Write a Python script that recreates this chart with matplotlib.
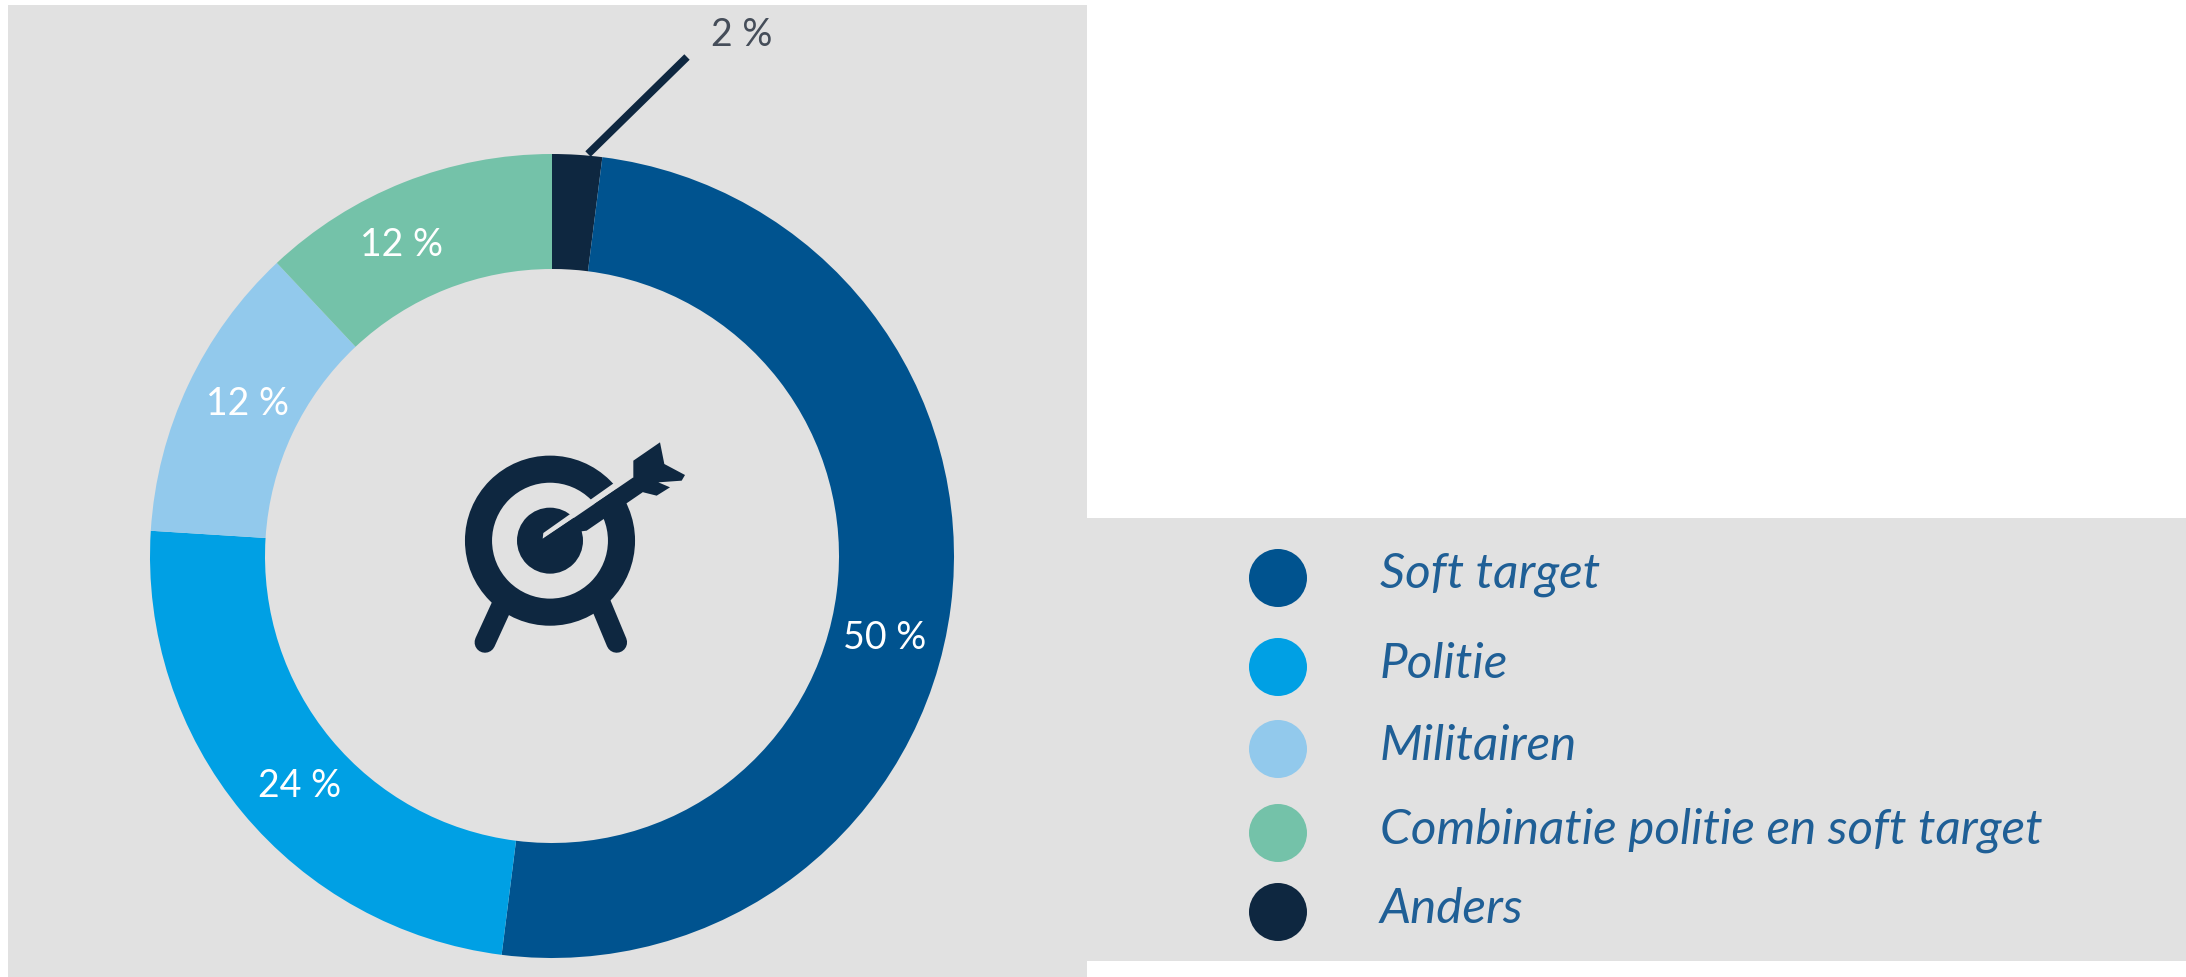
import numpy as np
import matplotlib
matplotlib.use('Agg')
import matplotlib.pyplot as plt
from matplotlib.patches import Rectangle, Circle, Polygon

W, H = 2186, 978

# clockwise from 12 o'clock
shares = [2, 50, 24, 12, 12]
colors = ['#0e2740', '#00538f', '#00a0e4', '#92c9ec', '#74c2a9']

legend_names = ['Soft target', 'Politie', 'Militairen', 'Combinatie politie en soft target', 'Anders']
legend_colors = ['#00538f', '#00a0e4', '#92c9ec', '#74c2a9', '#0e2740']
legend_rows = [579, 668, 750, 834, 913]

pct_labels = ['50 %', '24 %', '12 %', '12 %']
pct_xy = [(885, 638), (300, 786), (247, 404), (401, 245)]

GREY = '#e1e1e1'
NAVY = '#0e2740'
CX, CY = 552, 557


def flip(y):
    return H - y


def zoomed(x, y):
    # icon sketched in the coords of a 3x crop at (400,400)
    return 400 + x/3, flip(400 + y/3)


fig = plt.figure(figsize=(W/100, H/100), dpi=100)
ax = fig.add_axes([0, 0, 1, 1])

ax.add_patch(Rectangle((8, 0), 1079, flip(6), color=GREY, lw=0))
ax.add_patch(Rectangle((1087, flip(962)), W-1087, 962-519, color=GREY, lw=0))

ax.pie(shares, colors=colors, startangle=90, counterclock=False, center=(CX, flip(CY)),
       radius=402, wedgeprops=dict(width=115, linewidth=0))
ax.set_xlim(0, W)
ax.set_ylim(0, H)
ax.set_aspect('equal')
ax.axis('off')

for lab, (x, y) in zip(pct_labels, pct_xy):
    ax.text(x, flip(y), lab, color='white', fontsize=27, family='Lato', ha='center', va='center')

ax.plot([588, 687], [flip(155), flip(58)], color=NAVY, lw=5.5, solid_capstyle='butt')
ax.text(742, flip(35), '2 %', color='#454d59', fontsize=27, family='Lato', ha='center', va='center')

# target icon
c = zoomed(450, 425)
ax.add_patch(Circle(c, 71.5, fill=False, ec=NAVY, lw=19.5))
ax.add_patch(Circle(c, 33, color=NAVY, lw=0))
for a, b in [((310, 610), (255, 730)), ((600, 610), (650, 730))]:
    p, q = zoomed(*a), zoomed(*b)
    ax.plot([p[0], q[0]], [p[1], q[1]], color=NAVY, lw=15, solid_capstyle='round')
gap = [(428, 419), (430, 402), (645, 250), (670, 257)]
ax.add_patch(Polygon([zoomed(*v) for v in gap], color=GREY, lw=0))
shaft = [(432, 418), (700, 235), (735, 275), (560, 395), (520, 400)]
ax.add_patch(Polygon([zoomed(*v) for v in shaft], color=NAVY, lw=0))
fletch = [(700, 185), (780, 130), (793, 195), (855, 228), (845, 245), (775, 250),
          (810, 265), (770, 290), (730, 280), (700, 250)]
ax.add_patch(Polygon([zoomed(*v) for v in fletch], color=NAVY, lw=0))

ax.scatter([1278]*5, [flip(y) for y in legend_rows], s=(2*29*0.72)**2, c=legend_colors, linewidths=0)
for name, y in zip(legend_names, legend_rows):
    ax.text(1380, flip(y-4), name, color='#1f5f96', fontsize=35.6, style='italic',
            family='Lato', ha='left', va='center')

fig.savefig('out.png', dpi=100, facecolor='white')
